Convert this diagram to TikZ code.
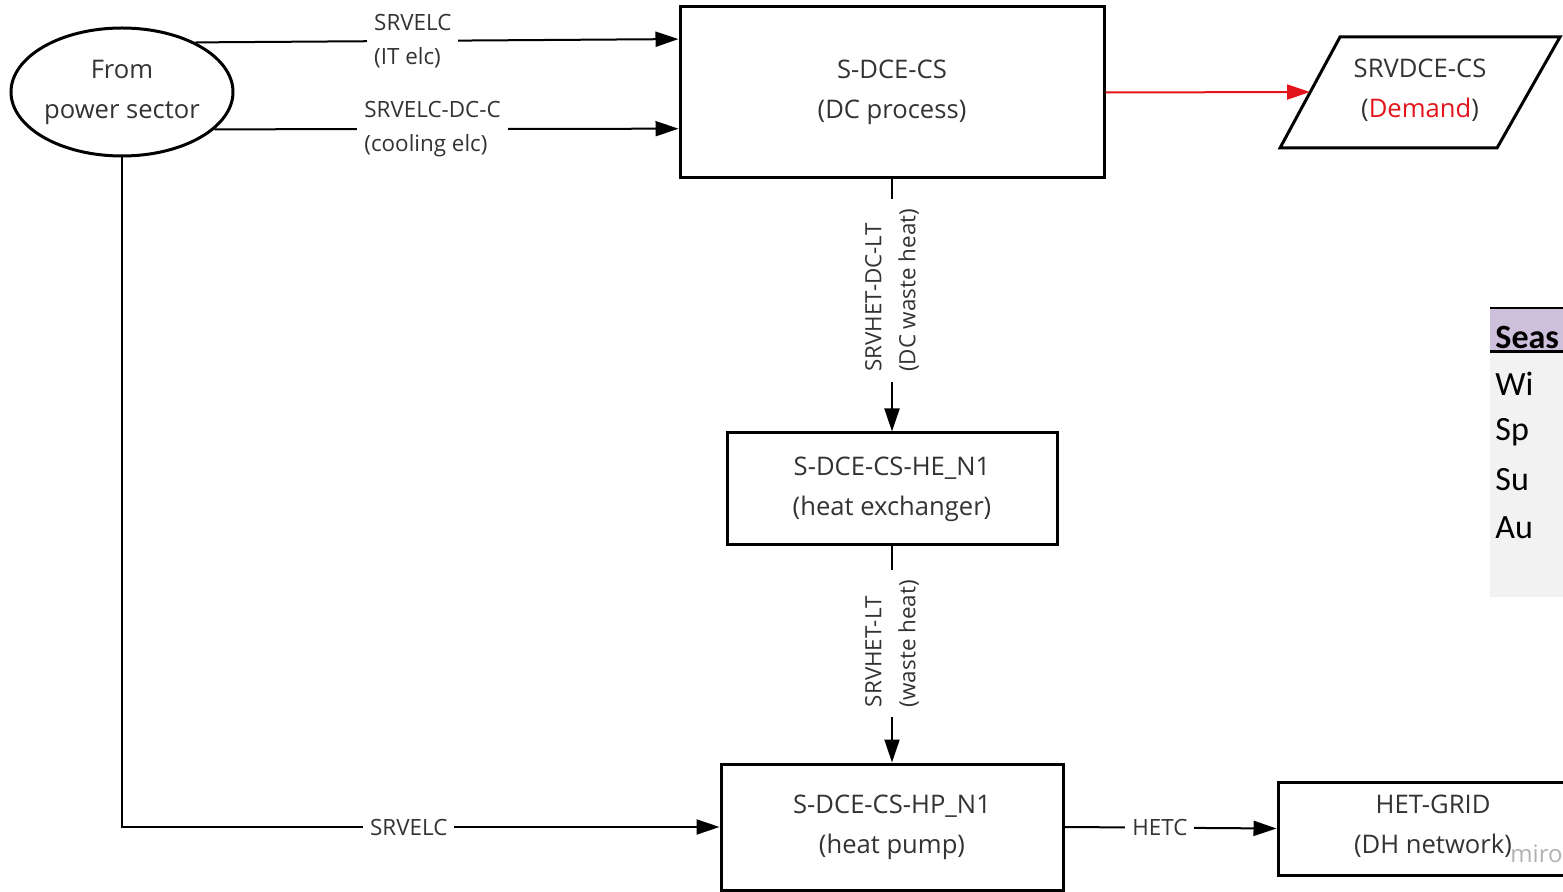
\documentclass[tikz,border=0pt]{standalone}
\usepackage{fontspec}
\setmainfont{Open Sans}
\newfontfamily\calibri{Carlito}
\usetikzlibrary{shapes.geometric,arrows.meta,calc}
\definecolor{txt}{HTML}{333333}
\definecolor{dred}{HTML}{E3141B}
\definecolor{hdr}{HTML}{CCC0DA}
\definecolor{bodyg}{HTML}{F2F2F2}
\begin{document}
\begin{tikzpicture}[x=0.5pt,y=-0.5pt,
  box/.style={draw, line width=1.5pt, inner sep=0pt, align=center, text=txt,
    font=\fontsize{12.8}{20}\selectfont},
  lab/.style={fill=white, align=left, inner xsep=3.5pt, inner ysep=2pt, text=txt,
    font=\fontsize{11.2}{17}\selectfont},
  flow/.style={line width=1pt, -{Triangle[length=11.5pt,width=7.5pt]}},
  tabtxt/.style={anchor=west, inner sep=0pt, font=\calibri\fontsize{17}{20}\selectfont}
]
\clip (0,0) rectangle (1563,892);
\fill[white] (0,0) rectangle (1563,892);

% table fragment
\fill[hdr] (1490,308) rectangle (1563,352);
\fill[bodyg] (1490,352) rectangle (1563,597);
\draw[line width=1pt] (1490,308) -- (1563,308);
\draw[line width=1.5pt] (1490,352) -- (1563,352);
\node[tabtxt] (th) at (1495,337) {\bfseries Seas};
\node[tabtxt] (t1) at (1495,384) {Wi};
\node[tabtxt] (t2) at (1495,432) {Sp};
\node[tabtxt] (t3) at (1495,480) {Su};
\node[tabtxt] (t4) at (1495,528) {Au};

% nodes
\node[box, ellipse, minimum width=111pt, minimum height=64pt] (ell) at (122,92) {From\\power sector};
\node[box, minimum width=212pt, minimum height=85.5pt] (dc) at (892,92.5) {S-DCE-CS\\(DC process)};
\node[box, minimum width=165pt, minimum height=56pt] (he) at (892,489) {S-DCE-CS-HE\_N1\\(heat exchanger)};
\node[box, minimum width=171pt, minimum height=63pt] (hp) at (892,827) {S-DCE-CS-HP\_N1\\(heat pump)};
\node[box, minimum width=156pt, minimum height=46.5pt] (grid) at (1434,828.5) {};
\node[align=center, text=txt, font=\fontsize{12.8}{20}\selectfont, inner sep=0pt] (gridt) at (1433,826) {HET-GRID\\(DH network)};
\node[text=black!30, font=\fontsize{12}{14}\selectfont, inner sep=0pt, anchor=base west] (miro) at (1510,862) {miro};

% demand parallelogram
\draw[line width=1.5pt, line join=miter] (1340,37) -- (1560,37) -- (1497,148) -- (1280,148) -- cycle;
\node[align=center, text=txt, font=\fontsize{12.8}{20}\selectfont, inner sep=0pt] (dem) at (1420,90) {SRVDCE-CS\\(\textcolor{dred}{Demand})};
\coordinate (demin) at (1310,92);

% connectors
\coordinate (dcin1) at ($(dc.north west)!0.193!(dc.south west)$);
\coordinate (dcin2) at ($(dc.north west)!0.708!(dc.south west)$);
\draw[flow] (ell.34) -- node[lab, pos=0.45] (l1) {SRVELC\\(IT elc)} (dcin1);
\draw[flow] (ell.-22) -- node[lab, pos=0.47] (l2) {SRVELC-DC-C\\(cooling elc)} (dcin2);
\draw[flow, draw=dred, -{Triangle[length=11.5pt,width=7.5pt,fill=dred]}] (dc.east) -- (demin);
\draw[flow] (dc.south) -- node[lab, rotate=90, pos=0.44, inner xsep=5pt] (l3) {SRVHET-DC-LT\\(DC waste heat)} (he.north);
\draw[flow] (he.south) -- node[lab, rotate=90, pos=0.45, inner xsep=5pt] (l4) {SRVHET-LT\\(waste heat)} (hp.north);
\draw[flow] (ell.south) |- node[lab, pos=0.74] (l5) {SRVELC} (hp.west);
\draw[flow] (hp.east) -- node[lab, pos=0.45] (l6) {HETC} (grid.west);
\end{tikzpicture}
\end{document}
